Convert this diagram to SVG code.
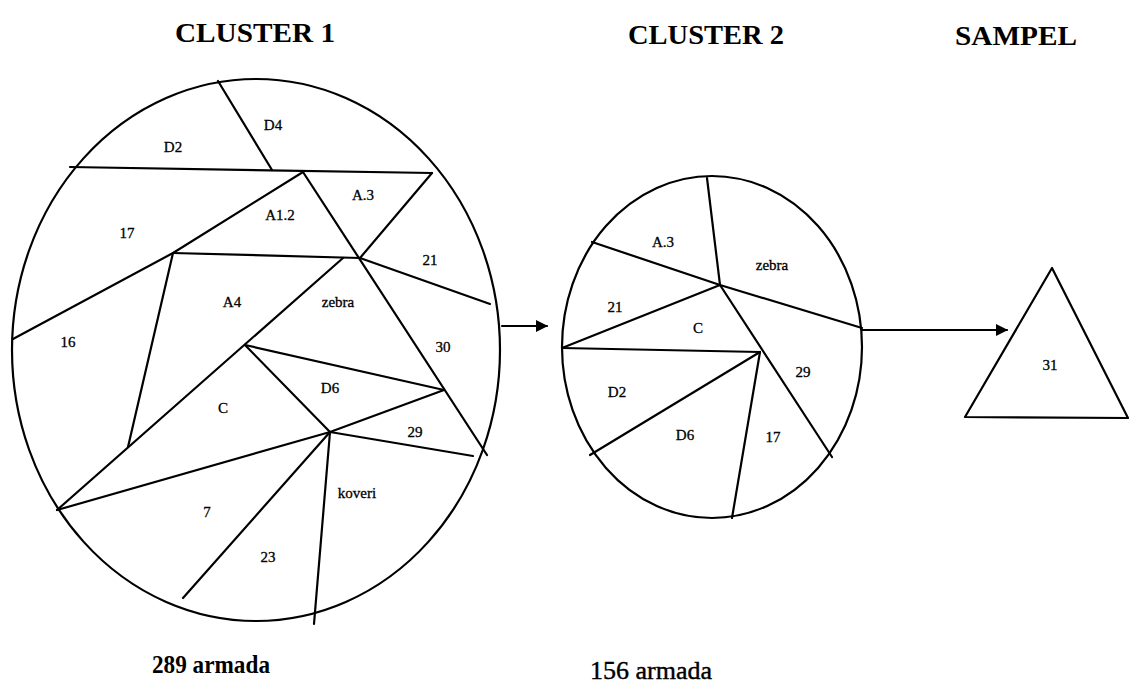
<svg xmlns="http://www.w3.org/2000/svg" width="1129" height="690" viewBox="0 0 1129 690">
<defs>
<style>
.ln{stroke:#000;stroke-width:2.2;fill:none;stroke-linecap:round;stroke-linejoin:round}
.lb{font-family:"Liberation Serif","Times New Roman",serif;font-size:15px;fill:#000;stroke:#000;stroke-width:0.3;text-anchor:middle}
.tt{font-family:"Liberation Serif","Times New Roman",serif;font-size:28px;font-weight:bold;fill:#000;text-anchor:middle}
.bt{font-family:"Liberation Serif","Times New Roman",serif;font-size:25px;fill:#000;text-anchor:middle}
</style>
<marker id="ah" markerWidth="12" markerHeight="12" refX="11" refY="6" orient="auto" markerUnits="userSpaceOnUse">
<path d="M0,0 L12,6 L0,12 Z" fill="#000"/>
</marker>
</defs>
<rect width="1129" height="690" fill="#fff"/>

<g id="titles">
<text class="tt" x="255" y="42" textLength="160" lengthAdjust="spacingAndGlyphs">CLUSTER 1</text>
<text class="tt" x="706" y="44" textLength="156" lengthAdjust="spacingAndGlyphs">CLUSTER 2</text>
<text class="tt" x="1016" y="45" textLength="122" lengthAdjust="spacingAndGlyphs">SAMPEL</text>
</g>

<g id="cluster1">
<ellipse class="ln" cx="256" cy="350" rx="244" ry="271"/>
<line class="ln" x1="218" y1="81" x2="272" y2="170"/>
<line class="ln" x1="70" y1="167" x2="432" y2="173"/>
<line class="ln" x1="303" y1="172" x2="487" y2="455"/>
<line class="ln" x1="432" y1="173" x2="360" y2="258"/>
<polyline class="ln" points="303,172 173,253 13,339"/>
<line class="ln" x1="173" y1="253" x2="360" y2="258"/>
<line class="ln" x1="360" y1="258" x2="490" y2="304"/>
<line class="ln" x1="173" y1="253" x2="128" y2="447"/>
<line class="ln" x1="343" y1="258" x2="57" y2="510"/>
<line class="ln" x1="245" y1="345" x2="444" y2="390"/>
<line class="ln" x1="245" y1="345" x2="330" y2="432"/>
<line class="ln" x1="330" y1="432" x2="444" y2="390"/>
<line class="ln" x1="330" y1="432" x2="473" y2="456"/>
<line class="ln" x1="330" y1="432" x2="57" y2="510"/>
<line class="ln" x1="330" y1="432" x2="183" y2="598"/>
<line class="ln" x1="330" y1="432" x2="314" y2="624"/>
<text class="lb" x="173" y="152">D2</text>
<text class="lb" x="273" y="130">D4</text>
<text class="lb" x="363" y="200">A.3</text>
<text class="lb" x="280" y="220">A1.2</text>
<text class="lb" x="127" y="238">17</text>
<text class="lb" x="430" y="265">21</text>
<text class="lb" x="232" y="307">A4</text>
<text class="lb" x="338" y="307" font-size="14">zebra</text>
<text class="lb" x="68" y="347">16</text>
<text class="lb" x="443" y="352">30</text>
<text class="lb" x="330" y="393">D6</text>
<text class="lb" x="223" y="413">C</text>
<text class="lb" x="415" y="437">29</text>
<text class="lb" x="357" y="498" font-size="14">koveri</text>
<text class="lb" x="207" y="517">7</text>
<text class="lb" x="268" y="562">23</text>
<text class="bt" x="211" y="673" font-weight="bold" textLength="118" lengthAdjust="spacingAndGlyphs">289 armada</text>
</g>

<g id="cluster2">
<ellipse class="ln" cx="712" cy="347" rx="150" ry="171"/>
<line class="ln" x1="707" y1="178" x2="720" y2="285"/>
<line class="ln" x1="592" y1="242" x2="720" y2="285"/>
<line class="ln" x1="720" y1="285" x2="862" y2="328"/>
<line class="ln" x1="720" y1="285" x2="562" y2="348"/>
<line class="ln" x1="720" y1="285" x2="832" y2="457"/>
<line class="ln" x1="562" y1="348" x2="760" y2="352"/>
<line class="ln" x1="760" y1="352" x2="590" y2="455"/>
<line class="ln" x1="760" y1="352" x2="732" y2="518"/>
<text class="lb" x="663" y="247">A.3</text>
<text class="lb" x="772" y="270" font-size="14">zebra</text>
<text class="lb" x="615" y="312">21</text>
<text class="lb" x="698" y="333">C</text>
<text class="lb" x="803" y="377">29</text>
<text class="lb" x="617" y="397">D2</text>
<text class="lb" x="685" y="440">D6</text>
<text class="lb" x="773" y="442">17</text>
<text class="bt" x="651" y="679" stroke="#000" stroke-width="0.4" textLength="122" lengthAdjust="spacingAndGlyphs">156 armada</text>
</g>

<g id="sampel">
<polygon class="ln" points="1052,268 965,417 1128,418"/>
<text class="lb" x="1050" y="370" font-size="22" stroke-width="0">31</text>
</g>

<g id="connectors">
<line class="ln" x1="502" y1="326" x2="547" y2="326" marker-end="url(#ah)"/>
<line class="ln" x1="862" y1="330" x2="1007" y2="330" marker-end="url(#ah)"/>
</g>
</svg>
